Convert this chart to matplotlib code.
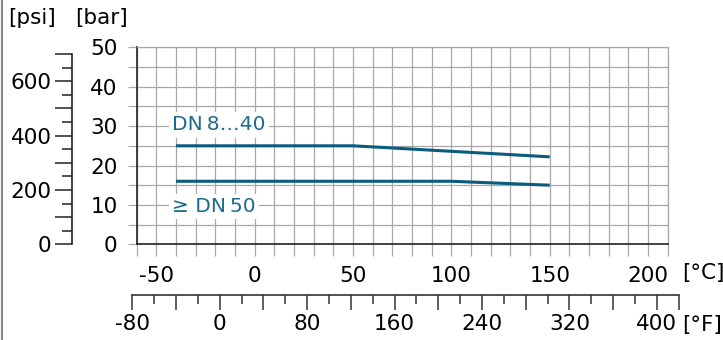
import numpy as np
import matplotlib
matplotlib.use("Agg")
import matplotlib.pyplot as plt
from matplotlib.ticker import FixedLocator, FixedFormatter
from matplotlib.lines import Line2D

# pressure-temperature ratings
temp_dn8_40 = [-40, 50, 100, 150]
bar_dn8_40 = [25, 25, 23.6, 22.2]
temp_dn50 = [-40, 100, 150]
bar_dn50 = [16, 16, 15]

c_ticks = [-50, 0, 50, 100, 150, 200]
bar_ticks = [0, 10, 20, 30, 40, 50]
psi_ticks = [0, 200, 400, 600]
f_ticks = [-80, 0, 80, 160, 240, 320, 400]

TEAL = "#0b5b7c"
TEXT_TEAL = "#1f6b8c"
GRID = "#a8a8a8"
FS = 15.5

plt.rcParams['font.family'] = ['DejaVu Sans']
plt.rcParams['font.size'] = FS
plt.rcParams['axes.unicode_minus'] = False

W_PX, H_PX = 723, 340
fig = plt.figure(figsize=(W_PX / 100, H_PX / 100), dpi=100)

# main chart in degC / bar
left, width = 136.7 / W_PX, 531 / W_PX
bottom, height = (H_PX - 244.3) / H_PX, 197 / H_PX
ax = fig.add_axes([left, bottom, width, height])
ax.set_xlim(-60, 210)
ax.set_ylim(0, 50)

ax.xaxis.set_major_locator(FixedLocator(c_ticks))
ax.xaxis.set_minor_locator(FixedLocator([t for t in range(-60, 211, 10) if t not in c_ticks]))
ax.yaxis.set_major_locator(FixedLocator(bar_ticks))
ax.yaxis.set_minor_locator(FixedLocator(list(range(5, 50, 10))))
ax.grid(True, which='both', color=GRID, lw=0.9)
ax.set_axisbelow(True)
ax.tick_params(axis='x', which='both', direction='out', length=8.9, color=GRID, width=0.9, pad=7)
ax.tick_params(axis='y', which='both', direction='out', length=6.8, color=GRID, width=0.9, pad=7)
ax.tick_params(axis='both', labelsize=FS)
for s in ['top', 'right']:
    ax.spines[s].set_color(GRID)
    ax.spines[s].set_linewidth(0.9)
for s in ['left', 'bottom']:
    ax.spines[s].set_color('#222222')
    ax.spines[s].set_linewidth(1.2)

ax.plot(temp_dn8_40, bar_dn8_40, color=TEAL, lw=2.2, solid_capstyle='butt')
ax.plot(temp_dn50, bar_dn50, color=TEAL, lw=2.2, solid_capstyle='butt')

box = dict(facecolor='white', edgecolor='none', pad=2.5)
ax.text(-42, 30.3, "DN\u20098\u202640", color=TEXT_TEAL, fontsize=14.5, va='center', ha='left', bbox=box)
ax.text(-42, 9.6, "\u2265 DN\u200950", color=TEXT_TEAL, fontsize=14.5, va='center', ha='left', bbox=box)

# psi axis
psi_max = 50 * 14.5038
axp = fig.add_axes([72.3 / W_PX, bottom, 0.0001, height])
axp.set_ylim(0, psi_max)
axp.patch.set_visible(False)
for s in ['top', 'right', 'bottom']:
    axp.spines[s].set_visible(False)
axp.spines['left'].set_bounds(0, 700)
axp.spines['left'].set_linewidth(1.2)
axp.spines['left'].set_color('#222222')
axp.set_xticks([])
psi_major = list(range(0, 701, 100))
axp.yaxis.set_major_locator(FixedLocator(psi_major))
axp.yaxis.set_major_formatter(FixedFormatter([str(v) if v in psi_ticks else "" for v in psi_major]))
axp.yaxis.set_minor_locator(FixedLocator(list(range(50, 700, 100))))
axp.tick_params(axis='y', which='major', length=12, width=1.1, color='#222222', pad=3, labelsize=FS)
axp.tick_params(axis='y', which='minor', length=7, width=1.1, color='#222222')

# Fahrenheit axis, aligned with the degC scale
def f_to_frac(f):
    c = (f - 32) / 1.8
    return left + (c + 60) / 270 * width

f_lo, f_hi = -80, 420
axf = fig.add_axes([f_to_frac(f_lo), (H_PX - 295) / H_PX, f_to_frac(f_hi) - f_to_frac(f_lo), 0.0001])
axf.set_xlim(f_lo, f_hi)
axf.patch.set_visible(False)
for s in ['top', 'right', 'left']:
    axf.spines[s].set_visible(False)
axf.spines['bottom'].set_linewidth(1.2)
axf.spines['bottom'].set_color('#333333')
axf.set_yticks([])
f_major = list(range(-80, 401, 40)) + [420]
axf.xaxis.set_major_locator(FixedLocator(f_major))
axf.xaxis.set_major_formatter(FixedFormatter([str(v) if v in f_ticks else "" for v in f_major]))
axf.xaxis.set_minor_locator(FixedLocator(list(range(-60, 400, 40))))
axf.tick_params(axis='x', which='major', length=10.8, width=1.1, color='#333333', pad=3, labelsize=FS)
axf.tick_params(axis='x', which='minor', length=6.5, width=1.1, color='#333333')

# unit labels
def ftxt(x, y, s, ha='left'):
    fig.text(x / W_PX, 1 - y / H_PX, s, ha=ha, va='center', fontsize=FS)

ftxt(8, 18, "[psi]")
ftxt(75, 18, "[bar]")
ftxt(682, 273, "[\u00b0C]")
ftxt(682, 325, "[\u00b0F]")

# frame edge on the left
fig.add_artist(Line2D([1.5 / W_PX, 1.5 / W_PX], [0, 1], color='#888888', lw=1.5))

fig.savefig("out.png", dpi=100)
